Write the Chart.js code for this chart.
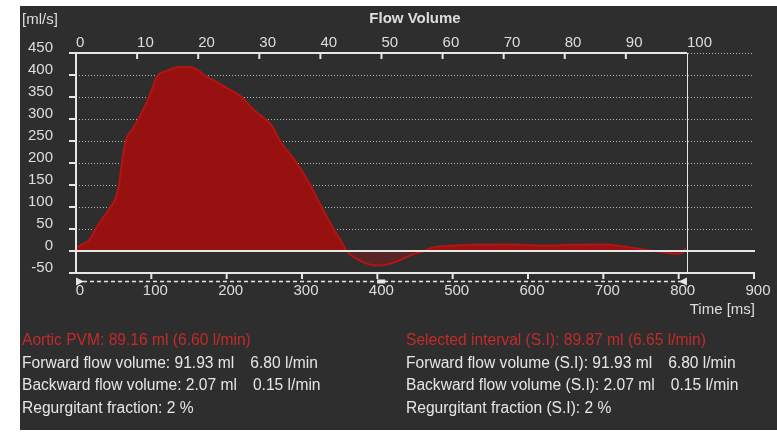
<!DOCTYPE html>
<html>
<head>
<meta charset="utf-8">
<script src="https://cdn.jsdelivr.net/npm/chart.js@4/dist/chart.umd.min.js"></script>
<style>
  body { margin: 0; background: #fff; }
  #panel {
    position: absolute; left: 20px; top: 6px; width: 757px; height: 424px;
    background: #2e2e2e; overflow: hidden;
    font-family: "Liberation Sans", Arial, sans-serif;
  }
  #flowChart { position: absolute; left: 0; top: 0; }
  .stats {
    position: absolute; top: 323px; font-size: 15.6px; line-height: 22.7px;
    color: #e6e6e6; white-space: nowrap;
  }
  .stats .head { color: #c42a2a; }
  .gap { display: inline-block; width: 16px; }
</style>
</head>
<body>
<div id="panel">
  <canvas id="flowChart" width="757" height="424"></canvas>
  <div class="stats" style="left:2px">
    <div class="head">Aortic PVM: 89.16 ml (6.60 l/min)</div>
    <div>Forward flow volume: 91.93 ml<span class="gap"></span>6.80 l/min</div>
    <div>Backward flow volume: 2.07 ml<span class="gap"></span>0.15 l/min</div>
    <div>Regurgitant fraction: 2 %</div>
  </div>
  <div class="stats" style="left:386px">
    <div class="head">Selected interval (S.I): 89.87 ml (6.65 l/min)</div>
    <div>Forward flow volume (S.I): 91.93 ml<span class="gap"></span>6.80 l/min</div>
    <div>Backward flow volume (S.I): 2.07 ml<span class="gap"></span>0.15 l/min</div>
    <div>Regurgitant fraction (S.I): 2 %</div>
  </div>
</div>
<script>
// flow curve (time in ms, flow in ml/s)
const timeMs = [0, 10, 18, 26, 37, 47, 52, 57, 61, 66, 74, 83, 97, 107, 121, 138, 152, 160, 170, 191,
  209, 220, 235, 251, 260, 271, 293, 311, 326, 342, 352, 359, 370, 385, 398, 412, 428, 448, 462, 472,
  497, 524, 577, 621, 656, 701, 727, 754, 780, 800, 805, 809];
const flowMlPerS = [8, 16, 26, 50, 78, 103, 118, 150, 200, 250, 275, 300, 350, 395, 410, 418, 418, 413, 400, 380,
  362, 350, 322, 300, 285, 250, 200, 150, 100, 50, 22, 0, -15, -28, -33, -31, -22, -7, 0, 7,
  12, 14, 15, 12, 14, 15, 10, 3, -3, -6, -4, 6];

// axis ticks
const flowTicks = [-50, 0, 50, 100, 150, 200, 250, 300, 350, 400, 450];
const timeTicks = [0, 100, 200, 300, 400, 500, 600, 700, 800, 900];
const cycleTicks = [0, 10, 20, 30, 40, 50, 60, 70, 80, 90, 100];

// cycle length and selected interval (ms)
const cycleLengthMs = 811;
const selStartMs = 0;
const selEndMs = 811;
const selMidMs = 405;

const axisColor = "#e6e6e6";
const labelColor = "#dedede";
const tickFont = { family: "Liberation Sans, Arial, sans-serif", size: 15 };

function setTicks(values) {
  return (scale) => {
    scale.ticks = values.map((v) => ({ value: v }));
  };
}

function hLine(ctx, x1, x2, y) {
  ctx.beginPath();
  ctx.moveTo(x1, y);
  ctx.lineTo(x2, y);
  ctx.stroke();
}

function vLine(ctx, x, y1, y2) {
  ctx.beginPath();
  ctx.moveTo(x, y1);
  ctx.lineTo(x, y2);
  ctx.stroke();
}

const flowAxes = {
  id: "flowAxes",
  beforeDatasetsDraw(chart) {
    const { ctx, chartArea: a, scales } = chart;
    ctx.save();
    // dotted grid lines
    ctx.strokeStyle = "#b5b5b5";
    ctx.lineWidth = 1;
    ctx.setLineDash([1, 2]);
    flowTicks.filter((v) => v > 0).forEach((v) => {
      const py = Math.round(scales.y.getPixelForValue(v)) + 0.5;
      hLine(ctx, a.left, a.right, py);
    });
    ctx.restore();
  },
  afterDatasetsDraw(chart) {
    const { ctx, chartArea: a, scales } = chart;
    const x = scales.x, y = scales.y, x2 = scales.x2;
    ctx.save();
    ctx.strokeStyle = axisColor;
    ctx.fillStyle = axisColor;

    // zero line
    ctx.lineWidth = 2;
    hLine(ctx, a.left - 7, a.right + 1, y.getPixelForValue(0));

    // left axis + ticks
    vLine(ctx, a.left, a.top, a.bottom);
    flowTicks.forEach((v) => hLine(ctx, a.left - 7, a.left, y.getPixelForValue(v)));

    // top axis (percent of cycle)
    const endX = x2.getPixelForValue(100);
    hLine(ctx, a.left - 7, endX, a.top);
    cycleTicks.filter((v) => v > 0 && v < 100).forEach((v) => {
      vLine(ctx, x2.getPixelForValue(v), a.top, a.top + 6);
    });

    // bottom axis + ticks
    hLine(ctx, a.left - 7, a.right + 1, a.bottom);
    timeTicks.filter((v) => v > 0).forEach((v) => {
      vLine(ctx, x.getPixelForValue(v), a.bottom, a.bottom + 6);
    });

    // end of cycle marker
    ctx.lineWidth = 1;
    vLine(ctx, Math.round(endX) + 0.5, a.top, a.bottom);

    // selected interval
    const yd = a.bottom + 8.5;
    const sx = x.getPixelForValue(selStartMs);
    const ex = x.getPixelForValue(selEndMs);
    ctx.lineWidth = 1.5;
    ctx.setLineDash([4, 3]);
    hLine(ctx, sx, ex, yd);
    ctx.setLineDash([]);
    ctx.beginPath();
    ctx.moveTo(sx, yd - 4);
    ctx.lineTo(sx + 8, yd);
    ctx.lineTo(sx, yd + 4);
    ctx.closePath();
    ctx.fill();
    ctx.beginPath();
    ctx.moveTo(ex, yd - 4);
    ctx.lineTo(ex - 8, yd);
    ctx.lineTo(ex, yd + 4);
    ctx.closePath();
    ctx.fill();
    const mx = x.getPixelForValue(selMidMs);
    ctx.fillRect(mx - 4, yd - 2, 8, 4);

    // texts
    ctx.fillStyle = labelColor;
    ctx.textBaseline = "middle";
    ctx.font = "bold 15px 'Liberation Sans', Arial, sans-serif";
    ctx.textAlign = "center";
    ctx.fillText("Flow Volume", (a.left + a.right) / 2, 13);
    ctx.font = "15px 'Liberation Sans', Arial, sans-serif";
    ctx.textAlign = "left";
    ctx.fillText("[ml/s]", 2, 14);
    ctx.textAlign = "right";
    ctx.fillText("Time [ms]", a.right + 1, 304);
    ctx.restore();
  },
};

const ctx = document.getElementById("flowChart").getContext("2d");
new Chart(ctx, {
  type: "line",
  data: {
    datasets: [
      {
        data: timeMs.map((t, i) => ({ x: t, y: flowMlPerS[i] })),
        borderColor: "#b31414",
        borderWidth: 2,
        pointRadius: 0,
        cubicInterpolationMode: "monotone",
        fill: { target: "origin", above: "#981111", below: "rgba(150, 25, 25, 0.4)" },
      },
    ],
  },
  options: {
    responsive: false,
    animation: false,
    devicePixelRatio: 1,
    layout: { padding: { right: 23 } },
    plugins: {
      legend: { display: false },
      tooltip: { enabled: false },
      title: { display: false },
    },
    scales: {
      x: {
        type: "linear",
        position: "bottom",
        min: 0,
        max: 900,
        afterBuildTicks: setTicks(timeTicks),
        afterFit: (s) => { s.height = 157; },
        grid: { display: false, drawTicks: false },
        border: { display: false },
        ticks: { color: labelColor, font: tickFont, padding: 9, labelOffset: 4, maxRotation: 0, autoSkip: false },
      },
      x2: {
        type: "linear",
        position: "top",
        min: 0,
        max: (100 * 900) / cycleLengthMs,
        afterBuildTicks: setTicks(cycleTicks),
        afterFit: (s) => { s.height = 47; },
        grid: { display: false, drawTicks: false },
        border: { display: false },
        ticks: { color: labelColor, font: tickFont, padding: 1, align: "start", maxRotation: 0, autoSkip: false },
      },
      y: {
        min: -50,
        max: 450,
        afterBuildTicks: setTicks(flowTicks),
        afterFit: (s) => { s.width = 56; },
        grid: { display: false, drawTicks: false },
        border: { display: false },
        ticks: { color: labelColor, font: tickFont, padding: 23, labelOffset: -5, autoSkip: false },
      },
    },
  },
  plugins: [flowAxes],
});
</script>
</body>
</html>
